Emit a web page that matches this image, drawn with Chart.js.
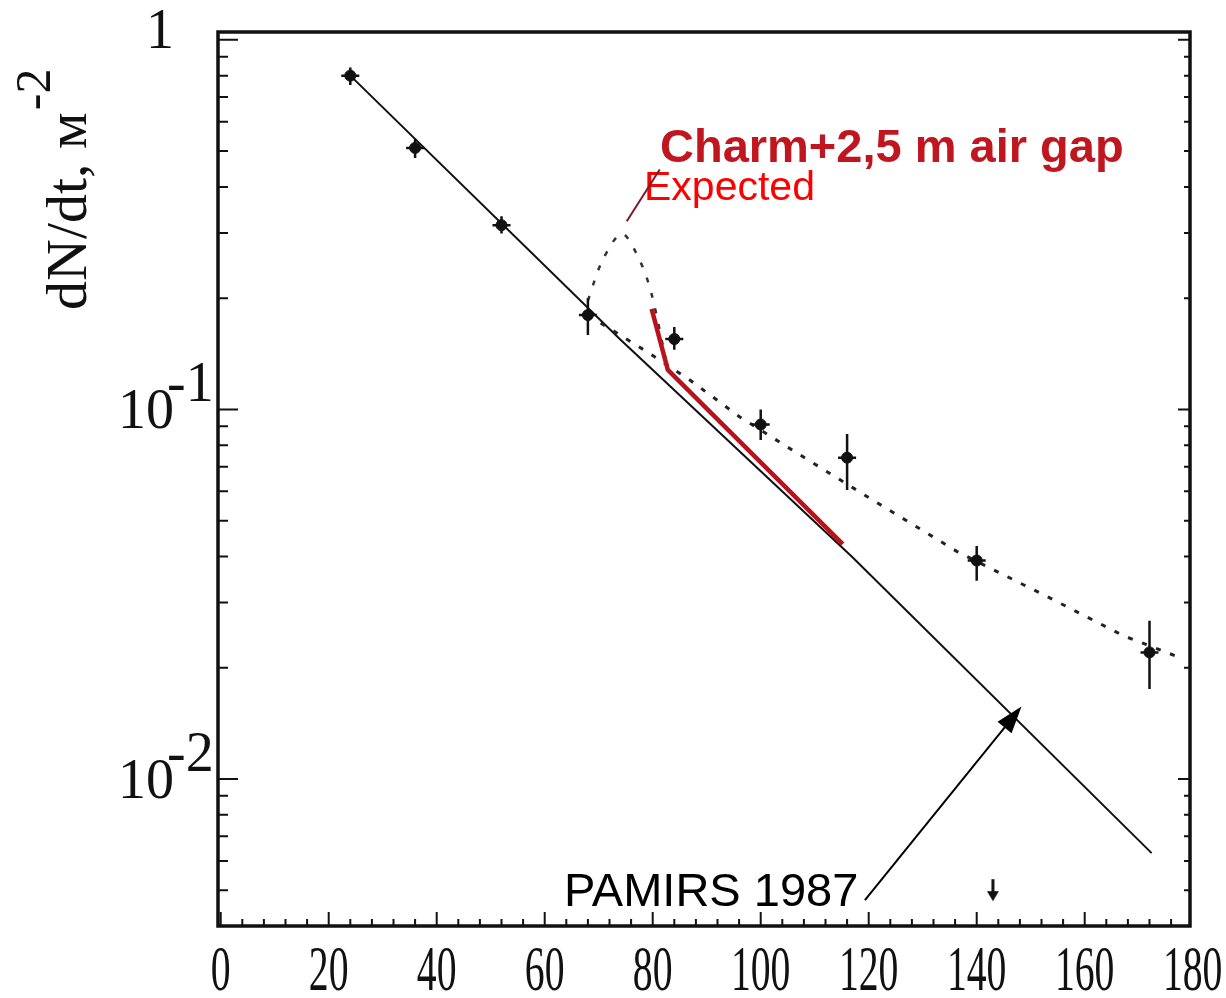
<!DOCTYPE html>
<html>
<head>
<meta charset="utf-8">
<script src="https://cdn.jsdelivr.net/npm/chart.js@4.4.1/dist/chart.umd.min.js"></script>
<style>
  html, body { margin: 0; padding: 0; background: #fff; }
</style>
</head>
<body>
<canvas id="grafico" width="1226" height="998"></canvas>
<script>
// Datos medidos: t y dN/dt con sus barras de error
const puntosX = [24, 36, 52, 68, 84, 100, 116, 140, 172];
const puntosY = [0.80, 0.51, 0.315, 0.18, 0.155, 0.091, 0.074, 0.039, 0.022];
const errorBajo = [0.755, 0.479, 0.299, 0.159, 0.145, 0.0826, 0.0605, 0.0344, 0.0175];
const errorAlto = [0.841, 0.540, 0.333, 0.200, 0.167, 0.100, 0.0858, 0.0427, 0.0268];

// Recta PAMIRS 1987
const pamirsX = [24, 73.9, 117, 172.4];
const pamirsY = [0.80, 0.155, 0.0398, 0.0063];

// Ajuste punteado
const ajusteX = [68, 79, 87, 96, 105, 119.6, 136.3, 153.7, 167.2, 178];
const ajusteY = [0.180, 0.143, 0.1197, 0.0957, 0.079, 0.0582, 0.0413, 0.0308, 0.0244, 0.0212];

// Pico esperado (Expected)
const picoX = [68, 70.7, 74.3, 77.6, 79.8, 82.8];
const picoY = [0.197, 0.253, 0.299, 0.253, 0.205, 0.128];

// Charm+2,5 m air gap
const charmX = [79.8, 82.8, 115.2];
const charmY = [0.187, 0.128, 0.0432];

// Limite superior (flecha hacia abajo)
const limiteX = [143];
const limiteY = [0.005];

// Ejes
const ticksX = [0, 20, 40, 60, 80, 100, 120, 140, 160, 180];
const ticksY = [1, 0.1, 0.01];
const etiquetasY = [['1', ''], ['10', '-1'], ['10', '-2']];

// Anotaciones (en unidades de datos)
const flechaPamirs = { desde: [119.3, 0.0047], hasta: [148.3, 0.0157] };
const lineaExpected = { desde: [75.2, 0.323], hasta: [81.3, 0.446] };

const aPuntos = (xs, ys) => xs.map((x, i) => ({ x, y: ys[i] }));

const SERIF = '"Liberation Serif", "DejaVu Serif", serif';
const SANS = '"Liberation Sans", Arial, sans-serif';

// marcador de limite: flecha pequena
const flecha = document.createElement('canvas');
flecha.width = 14;
flecha.height = 24;
const fc = flecha.getContext('2d');
fc.strokeStyle = '#111';
fc.lineWidth = 3;
fc.beginPath(); fc.moveTo(7, 1); fc.lineTo(7, 17); fc.stroke();
fc.fillStyle = '#111';
fc.beginPath(); fc.moveTo(1, 13); fc.lineTo(13, 13); fc.lineTo(7, 23); fc.closePath(); fc.fill();

const marco = {
  id: 'marco',
  beforeDraw(chart) {
    const ctx = chart.ctx;
    ctx.save();
    ctx.fillStyle = '#fff';
    ctx.fillRect(0, 0, chart.width, chart.height);
    ctx.restore();
  },
  afterDatasetsDraw(chart) {
    const { ctx, scales: { x, y } } = chart;
    ctx.save();
    ctx.strokeStyle = '#111';
    ctx.lineWidth = 2.5;
    puntosX.forEach((t, i) => {
      const px = x.getPixelForValue(t);
      ctx.beginPath();
      ctx.moveTo(px, y.getPixelForValue(errorBajo[i]));
      ctx.lineTo(px, y.getPixelForValue(errorAlto[i]));
      const py = y.getPixelForValue(puntosY[i]);
      ctx.moveTo(px - 9, py);
      ctx.lineTo(px + 9, py);
      ctx.stroke();
    });
    ctx.restore();
  },
  afterDraw(chart) {
    const { ctx, chartArea: a, scales: { x, y } } = chart;
    ctx.save();

    // marco
    ctx.strokeStyle = '#111';
    ctx.lineWidth = 3.5;
    ctx.strokeRect(a.left, a.top, a.right - a.left, a.bottom - a.top);

    // marcas del eje x (hacia dentro)
    ctx.lineWidth = 2;
    ctx.beginPath();
    for (let v = 0; v <= x.max; v += 4) {
      const px = x.getPixelForValue(v);
      const largo = v % 20 === 0 ? 14 : 7;
      ctx.moveTo(px, a.bottom);
      ctx.lineTo(px, a.bottom - largo);
    }
    // marcas del eje y (logaritmicas)
    for (let d = -3; d <= 0; d++) {
      for (let m = 1; m <= 9; m++) {
        const v = m * Math.pow(10, d);
        if (v < y.min || v > y.max) continue;
        const py = y.getPixelForValue(v);
        const largo = m === 1 ? 20 : 10;
        ctx.moveTo(a.left, py);
        ctx.lineTo(a.left + largo, py);
        ctx.moveTo(a.right, py);
        ctx.lineTo(a.right - (m === 1 ? 12 : 6), py);
      }
    }
    ctx.stroke();

    // etiquetas del eje x (serif estrecha)
    ctx.fillStyle = '#111';
    ctx.textAlign = 'center';
    ctx.textBaseline = 'alphabetic';
    ctx.font = '64px ' + SERIF;
    ticksX.forEach(v => {
      ctx.save();
      ctx.translate(x.getPixelForValue(v), 990);
      ctx.scale(0.62, 1);
      ctx.fillText(String(v), 0, 0);
      ctx.restore();
    });

    // etiquetas del eje y con exponente
    ticksY.forEach((v, i) => {
      const py = y.getPixelForValue(v);
      const [base, exp] = etiquetasY[i];
      ctx.font = '56px ' + SERIF;
      ctx.textAlign = 'right';
      ctx.fillText(base, 174, py + (exp ? 19 : 8));
      if (exp) {
        ctx.textAlign = 'left';
        ctx.fillText(exp, 167, py - 8);
      }
    });

    // titulo del eje y
    ctx.save();
    ctx.translate(86, 310);
    ctx.rotate(-Math.PI / 2);
    ctx.textAlign = 'left';
    ctx.font = '58px ' + SERIF;
    const titulo = 'dN/dt, м';
    ctx.fillText(titulo, 0, 0);
    const w = ctx.measureText(titulo).width;
    ctx.font = '50px ' + SERIF;
    ctx.fillText('-2', w + 2, -36);
    ctx.restore();

    // textos de anotacion
    ctx.textAlign = 'left';
    ctx.font = 'bold 47px ' + SANS;
    ctx.fillStyle = '#c0161f';
    ctx.fillText('Charm+2,5 m air gap', 660, 162);
    ctx.font = '41px ' + SANS;
    ctx.fillStyle = '#ff0000';
    ctx.fillText('Expected', 644, 200);
    ctx.font = '47px ' + SANS;
    ctx.fillStyle = '#000';
    ctx.fillText('PAMIRS 1987', 564, 906);

    // linea hacia el pico esperado
    ctx.strokeStyle = '#7a1a28';
    ctx.lineWidth = 2;
    ctx.beginPath();
    ctx.moveTo(x.getPixelForValue(lineaExpected.desde[0]), y.getPixelForValue(lineaExpected.desde[1]));
    ctx.lineTo(x.getPixelForValue(lineaExpected.hasta[0]), y.getPixelForValue(lineaExpected.hasta[1]));
    ctx.stroke();

    // flecha PAMIRS
    const x0 = x.getPixelForValue(flechaPamirs.desde[0]);
    const y0 = y.getPixelForValue(flechaPamirs.desde[1]);
    const x1 = x.getPixelForValue(flechaPamirs.hasta[0]);
    const y1 = y.getPixelForValue(flechaPamirs.hasta[1]);
    const ang = Math.atan2(y1 - y0, x1 - x0);
    ctx.strokeStyle = '#000';
    ctx.fillStyle = '#000';
    ctx.lineWidth = 2;
    ctx.beginPath();
    ctx.moveTo(x0, y0);
    ctx.lineTo(x1 - 20 * Math.cos(ang), y1 - 20 * Math.sin(ang));
    ctx.stroke();
    ctx.beginPath();
    ctx.moveTo(x1, y1);
    ctx.lineTo(x1 - 27 * Math.cos(ang) + 9 * Math.sin(ang), y1 - 27 * Math.sin(ang) - 9 * Math.cos(ang));
    ctx.lineTo(x1 - 27 * Math.cos(ang) - 9 * Math.sin(ang), y1 - 27 * Math.sin(ang) + 9 * Math.cos(ang));
    ctx.closePath();
    ctx.fill();

    ctx.restore();
  },
};

const ctx = document.getElementById('grafico').getContext('2d');

new Chart(ctx, {
  type: 'scatter',
  data: {
    datasets: [
      {
        label: 'Datos',
        data: aPuntos(puntosX, puntosY),
        pointRadius: 5.5,
        pointBackgroundColor: '#111',
        pointBorderColor: '#111',
        showLine: false,
        order: 0,
      },
      {
        label: 'Limite',
        data: aPuntos(limiteX, limiteY),
        pointStyle: flecha,
        showLine: false,
        order: 0,
      },
      {
        label: 'Charm+2,5 m air gap',
        data: aPuntos(charmX, charmY),
        showLine: true,
        borderColor: '#b8121c',
        borderWidth: 4.5,
        pointRadius: 0,
        order: 1,
      },
      {
        label: 'Expected',
        data: aPuntos(picoX, picoY),
        showLine: true,
        borderColor: '#333',
        borderWidth: 2.5,
        borderDash: [5, 11],
        tension: 0.3,
        pointRadius: 0,
        order: 2,
      },
      {
        label: 'Ajuste',
        data: aPuntos(ajusteX, ajusteY),
        showLine: true,
        borderColor: '#222',
        borderWidth: 3,
        borderDash: [5, 10],
        pointRadius: 0,
        order: 3,
      },
      {
        label: 'PAMIRS 1987',
        data: aPuntos(pamirsX, pamirsY),
        showLine: true,
        borderColor: '#111',
        borderWidth: 2,
        pointRadius: 0,
        order: 4,
      },
    ],
  },
  options: {
    responsive: false,
    animation: false,
    devicePixelRatio: 1,
    layout: { padding: { left: 218, right: 36, top: 32, bottom: 72 } },
    plugins: {
      legend: { display: false },
      tooltip: { enabled: false },
    },
    scales: {
      x: { type: 'linear', min: -0.5, max: 179.5, display: false },
      y: { type: 'logarithmic', min: 0.004, max: 1.05, display: false },
    },
  },
  plugins: [marco],
});
</script>
</body>
</html>
